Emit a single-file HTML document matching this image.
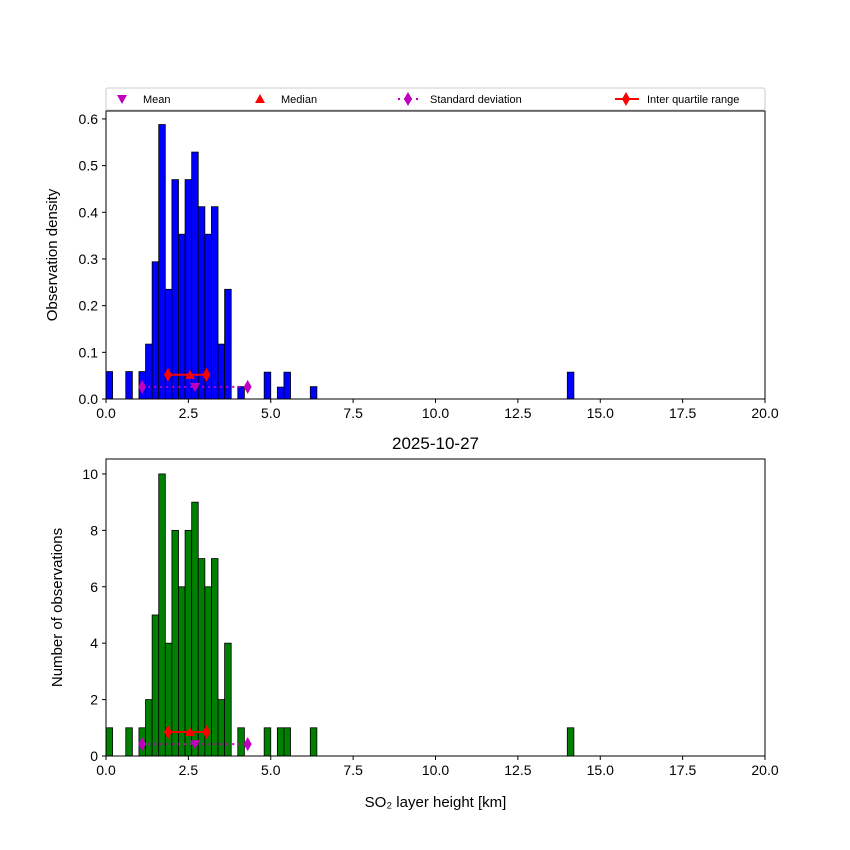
<!DOCTYPE html>
<html><head><meta charset="utf-8"><style>body{margin:0;background:#fff}svg{display:block;font-family:"Liberation Sans","DejaVu Sans",sans-serif}</style></head>
<body>
<svg id="c" width="850" height="850" viewBox="0 0 850 850"></svg>
<script>
const binStarts=[0,0.6,1.0,1.2,1.4,1.6,1.8,2.0,2.2,2.4,2.6,2.8,3.0,3.2,3.4,3.6,4.0,4.8,5.2,5.4,6.2,14.0];
const counts=[1,1,1,2,5,10,4,8,6,8,9,7,6,7,2,4,1,1,1,1,1,1];
const densities=[0.0588,0.0588,0.0588,0.1176,0.294,0.588,0.235,0.47,0.353,0.47,0.529,0.412,0.353,0.412,0.1176,0.235,0.0265,0.0575,0.0255,0.0575,0.0265,0.0575];
const binWidth=0.2;
const xTicks=[0,2.5,5,7.5,10,12.5,15,17.5,20];
const topTicks=[0,0.1,0.2,0.3,0.4,0.5,0.6];
const botTicks=[0,2,4,6,8,10];
const meanV=2.7, medianV=2.55, q1=1.88, q3=3.05, sdLo=1.1, sdHi=4.3;
const NS="http://www.w3.org/2000/svg";
const svg=document.getElementById('c');
function el(t,a,p){const e=document.createElementNS(NS,t);for(const k in a)e.setAttribute(k,a[k]);(p||svg).appendChild(e);return e;}
const X0=106,X1=765;
const xs=v=>X0+(v/20)*(X1-X0);
function panel(top,bot,ymax,ticks,fmt,color,vals,name,ylabel,ylx,yIqr,ySd){
  const ys=v=>bot-(v/ymax)*(bot-top);
  const g=el('g',{});
  
  
  binStarts.forEach((b,i)=>{
    const v=vals[i];
    const r=el('rect',{x:xs(b),y:ys(v),width:xs(b+binWidth)-xs(b),height:bot-ys(v),fill:color,stroke:'#000','stroke-width':0.8},g);
    
    
  });
  el('rect',{x:X0,y:top,width:X1-X0,height:bot-top,fill:'none',stroke:'#000','stroke-width':1},g);
  xTicks.forEach(t=>{
    el('line',{x1:xs(t),x2:xs(t),y1:bot,y2:bot+4,stroke:'#000'},g);
    const tx=el('text',{x:xs(t),y:bot+19,'text-anchor':'middle','font-size':14},g);tx.textContent=t.toFixed(1);
    
  });
  ticks.forEach(t=>{
    el('line',{x1:X0-4,x2:X0,y1:ys(t),y2:ys(t),stroke:'#000'},g);
    const tx=el('text',{x:X0-8,y:ys(t)+5,'text-anchor':'end','font-size':14},g);tx.textContent=fmt(t);
    
  });
  const cy=(top+bot)/2;
  const yl=el('text',{x:0,y:0,transform:`translate(${ylx},${cy}) rotate(-90)`,'text-anchor':'middle','font-size':15},g);yl.textContent=ylabel;
  
  const yi=ys(yIqr),ysd=ys(ySd);
  el('line',{x1:xs(sdLo),x2:xs(sdHi),y1:ysd,y2:ysd,stroke:'#bf00bf','stroke-width':2,'stroke-dasharray':'2,4'},g);
  el('line',{x1:xs(q1),x2:xs(q3),y1:yi,y2:yi,stroke:'#f00','stroke-width':2},g);
  [sdLo,sdHi].forEach(v=>el('path',{d:`M${xs(v)},${ysd-7}l4,7l-4,7l-4,-7z`,fill:'#bf00bf'},g));
  [q1,q3].forEach(v=>el('path',{d:`M${xs(v)},${yi-7}l4,7l-4,7l-4,-7z`,fill:'#f00'},g));
  el('path',{d:`M${xs(medianV)-5},${yi+4}l5,-9l5,9z`,fill:'#f00'},g);
  el('path',{d:`M${xs(meanV)-5},${ysd-4}l10,0l-5,9z`,fill:'#bf00bf'},g);
}
panel(111,399,0.617,topTicks,t=>t.toFixed(1),'#0000ff',densities,'density-histogram','Observation density',57,0.052,0.026);
panel(459,756,10.53,botTicks,t=>String(t),'#008000',counts,'count-histogram','Number of observations',62,0.85,0.42);
const title=el('text',{x:435.5,y:449,'text-anchor':'middle','font-size':17});title.textContent='2025-10-27';

const xl=el('text',{x:435.5,y:807,'text-anchor':'middle','font-size':15});xl.textContent='SO₂ layer height [km]';

const lg=el('g',{});

el('rect',{x:106,y:88,width:659,height:22,fill:'#fff',stroke:'#ccc',rx:2},lg);
const ly=99;
el('path',{d:`M117,${ly-4}l10,0l-5,9z`,fill:'#bf00bf'},lg);
el('path',{d:`M255,${ly+4}l5,-9l5,9z`,fill:'#f00'},lg);
el('line',{x1:398,x2:418,y1:ly,y2:ly,stroke:'#bf00bf','stroke-width':2,'stroke-dasharray':'2,4'},lg);
el('path',{d:`M408,${ly-7}l4,7l-4,7l-4,-7z`,fill:'#bf00bf'},lg);
el('line',{x1:615,x2:639,y1:ly,y2:ly,stroke:'#f00','stroke-width':2},lg);
el('path',{d:`M626,${ly-7}l4,7l-4,7l-4,-7z`,fill:'#f00'},lg);
[['Mean',143],['Median',281],['Standard deviation',430],['Inter quartile range',647]].forEach(([t,x])=>{
  const tx=el('text',{x:x,y:ly+4,'font-size':11},lg);tx.textContent=t;
  
});
</script>
</body></html>
